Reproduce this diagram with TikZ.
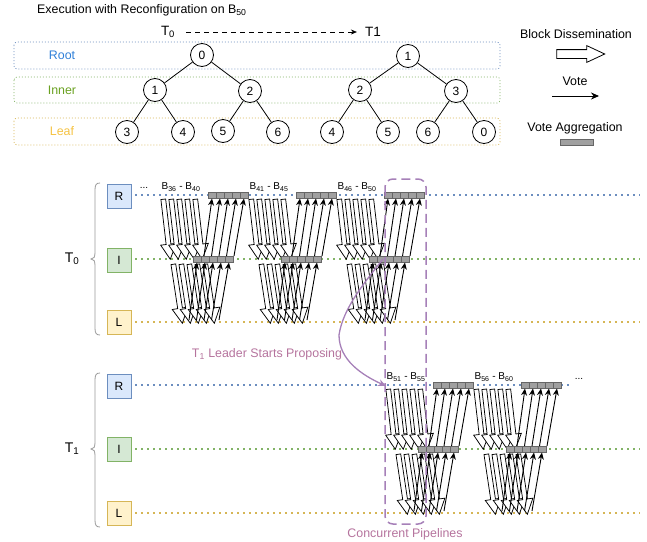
\documentclass[tikz,border=0pt]{standalone}
\usepackage{fontspec}
\setmainfont{Liberation Sans}
\usetikzlibrary{shapes.arrows,arrows.meta,calc}
\definecolor{rblue}{HTML}{6C8EBF}
\definecolor{rfill}{HTML}{DAE8FC}
\definecolor{igreen}{HTML}{82B366}
\definecolor{ifill}{HTML}{D5E8D4}
\definecolor{lyellow}{HTML}{D6B656}
\definecolor{lfill}{HTML}{FFF2CC}
\definecolor{roottxt}{HTML}{2F7FD8}
\definecolor{innertxt}{HTML}{6AA121}
\definecolor{leaftxt}{HTML}{F5C242}
\definecolor{aggfill}{HTML}{A0A0A0}
\definecolor{aggline}{HTML}{666666}
\definecolor{purp}{HTML}{A680B8}
\definecolor{purptxt}{HTML}{B5739D}
\definecolor{bracegray}{HTML}{999999}
\tikzset{
  txt/.style={font=\fontsize{12.4}{14}\selectfont, inner sep=0pt},
  blab/.style={font=\fontsize{10}{12}\selectfont, inner sep=0pt},
  tnode/.style={circle, draw, line width=0.8pt, minimum size=23pt, inner sep=0pt, font=\fontsize{12}{14}\selectfont},
  tedge/.style={line width=0.8pt},
  rowbox/.style={rounded corners=3pt, line width=0.7pt, dash pattern=on 1pt off 2pt},
  lane/.style={line width=1.5pt, dash pattern=on 1.5pt off 4.5pt},
  lvlbox/.style={draw, line width=0.8pt, minimum size=24pt, inner sep=0pt, font=\fontsize{12}{14}\selectfont},
  blockar/.style={single arrow, draw, fill=white, line width=0.75pt, inner xsep=0pt, inner ysep=2pt,
     minimum width=15pt, single arrow head extend=5.5pt, single arrow tip angle=55, anchor=center},
  vote/.style={line width=0.9pt, -{Stealth[length=7pt,width=6pt]}},
  agg/.style={draw=aggline, fill=aggfill, line width=0.9pt},
}
\newcommand\blkarr[5]{%
  \path let \p1=($(#3,#4)-(#1,#2)$), \n1={atan2(\y1,\x1)}, \n2={veclen(\x1,\y1)} in
    node[blockar, minimum height=\n2, rotate=\n1] (#5) at ($(#1,#2)!0.5!(#3,#4)$) {};}
% x0, yR, yI, yL, id, label
\newcommand\grp[6]{%
  \node[blab] (lab#5) at (#1+18, #2-8) {#6};
  \foreach \k in {0,...,4}{
    \pgfmathsetmacro\ax{#1+8*\k}
    \pgfmathsetmacro\bx{#1+7+8*\k}
    \blkarr{\ax}{#2+2}{\bx}{#3-2}{ri#5\k}
  }
  \foreach \k in {0,...,4}{
    \pgfmathsetmacro\ax{#1+10+8*\k}
    \pgfmathsetmacro\bx{#1+19+8*\k}
    \blkarr{\ax}{#3+3}{\bx}{#4-1}{il#5\k}
  }
  \foreach \c in {0,...,4}{
    \draw[agg] ({#1+45+8*\c},{#2-3}) rectangle ++(8,6);
    \draw[agg] ({#1+30+8*\c},{#3-3}) rectangle ++(8,6);
  }
  \foreach \k in {0,...,4}{
    \draw[vote] ({#1+26+7.5*\k},{#4-2}) -- ({#1+34+8*\k},{#3+3.5});
    \draw[vote] ({#1+41+7.5*\k},{#3-3}) -- ({#1+49+8*\k},{#2+3.5});
  }
}
\begin{document}
\begin{tikzpicture}[x=1pt,y=-1pt]
\useasboundingbox (0,0) rectangle (647,541);

% ---------- top part ----------
\node[txt, anchor=west] (title) at (37,10) {Execution with Reconfiguration on B\textsubscript{50}};
\node[font=\fontsize{13.5}{15}\selectfont, inner sep=0pt] (t0top) at (168,32) {T\textsubscript{0}};
\node[font=\fontsize{13.5}{15}\selectfont, inner sep=0pt] (t1top) at (373,32) {T1};
\draw[line width=0.8pt, dash pattern=on 5pt off 4pt, -{Stealth[length=6pt,width=5pt]}, shorten <=11pt, shorten >=8pt] (t0top) -- (t1top);

\draw[rowbox, draw=rblue] (14,42) rectangle (500,69);
\draw[rowbox, draw=igreen] (14,77) rectangle (500,103);
\draw[rowbox, draw=lyellow] (14,118) rectangle (500,145);
\node[txt, text=roottxt] (rootlab) at (62,55) {Root};
\node[txt, text=innertxt] (innerlab) at (62,90) {Inner};
\node[txt, text=leaftxt] (leaflab) at (62,131) {Leaf};

% T0 tree
\node[tnode] (a0) at (202,55) {0};
\node[tnode] (a1) at (155,90) {1};
\node[tnode] (a2) at (250,91) {2};
\node[tnode] (a3) at (127,132) {3};
\node[tnode] (a4) at (183,132) {4};
\node[tnode] (a5) at (223,131) {5};
\node[tnode] (a6) at (278,132) {6};
\draw[tedge] (a0) -- (a1); \draw[tedge] (a0) -- (a2);
\draw[tedge] (a1) -- (a3); \draw[tedge] (a1) -- (a4);
\draw[tedge] (a2) -- (a5); \draw[tedge] (a2) -- (a6);
% T1 tree
\node[tnode] (b1) at (408,56) {1};
\node[tnode] (b2) at (360,90) {2};
\node[tnode] (b3) at (456,91) {3};
\node[tnode] (b4) at (332,132) {4};
\node[tnode] (b5) at (388,132) {5};
\node[tnode] (b6) at (428,132) {6};
\node[tnode] (b0) at (484,132) {0};
\draw[tedge] (b1) -- (b2); \draw[tedge] (b1) -- (b3);
\draw[tedge] (b2) -- (b4); \draw[tedge] (b2) -- (b5);
\draw[tedge] (b3) -- (b6); \draw[tedge] (b3) -- (b0);

% legend
\node[txt] (lgblock) at (576,34) {Block Dissemination};
\node[single arrow, draw, fill=white, line width=0.8pt, inner xsep=0pt, inner ysep=4pt, minimum height=48pt, minimum width=16pt,
      single arrow head extend=4pt, single arrow tip angle=50] (lgarrow) at (576,54) {};
\node[txt] (lgvote) at (575,81) {Vote};
\coordinate (lgv1) at (552,96);
\coordinate (lgv2) at (599,96);
\draw[vote, -{Stealth[length=8pt,width=7pt]}] (lgv1) -- (lgv2);
\node[txt] (lgagg) at (575,128) {Vote Aggregation};
\draw[agg] (560,139) rectangle (593,145);

% ---------- bottom part ----------
% lanes
\draw[lane, draw=rblue] (135,195) -- (640,195);
\draw[lane, draw=igreen] (135,259) -- (640,259);
\draw[lane, draw=lyellow] (135,322) -- (640,322);
\draw[lane, draw=rblue] (135,385) -- (570,385);
\draw[lane, draw=igreen] (135,449) -- (640,449);
\draw[lane, draw=lyellow] (135,513) -- (640,513);
\node[blab] (dots0) at (144,188) {...};
\node[blab] (dots1) at (579,379) {...};

% level boxes
\node[lvlbox, draw=rblue, fill=rfill] (r0) at (119,196) {R};
\node[lvlbox, draw=igreen, fill=ifill] (i0) at (119,260) {I};
\node[lvlbox, draw=lyellow, fill=lfill] (l0) at (119,322) {L};
\node[lvlbox, draw=rblue, fill=rfill] (r1) at (119,386) {R};
\node[lvlbox, draw=igreen, fill=ifill] (i1) at (119,449) {I};
\node[lvlbox, draw=lyellow, fill=lfill] (l1) at (119,513) {L};

% braces
\draw[bracegray, line width=0.8pt] (100,183) .. controls (96,183) and (95,185) .. (95,190) -- (95,252)
  .. controls (95,257) and (94,259) .. (91,259) .. controls (94,259) and (95,261) .. (95,266) -- (95,328)
  .. controls (95,333) and (96,335) .. (100,335);
\draw[bracegray, line width=0.8pt] (100,373) .. controls (96,373) and (95,375) .. (95,380) -- (95,442)
  .. controls (95,447) and (94,449) .. (91,449) .. controls (94,449) and (95,451) .. (95,456) -- (95,520)
  .. controls (95,525) and (96,527) .. (100,527);
\node[font=\fontsize{14}{16}\selectfont, inner sep=0pt] (bt0) at (72,259) {T\textsubscript{0}};
\node[font=\fontsize{14}{16}\selectfont, inner sep=0pt] (bt1) at (72,449) {T\textsubscript{1}};

% groups
\grp{163}{195}{259}{322}{a}{B\textsubscript{36} - B\textsubscript{40}}
\grp{251}{195}{259}{322}{b}{B\textsubscript{41} - B\textsubscript{45}}
\grp{339}{195}{259}{322}{c}{B\textsubscript{46} - B\textsubscript{50}}
\grp{388}{385}{449}{513}{d}{B\textsubscript{51} - B\textsubscript{55}}
\grp{476}{385}{449}{513}{e}{B\textsubscript{56} - B\textsubscript{60}}

% purple overlays
\draw[purp, line width=1.5pt, dash pattern=on 9pt off 5pt, rounded corners=8pt] (385,179) rectangle (426,524);
\coordinate (cs) at (383,259);
\coordinate (ce) at (386,386);
\draw[purp, line width=1.3pt, -{Stealth[length=8pt,width=7pt]}] (cs) .. controls (365,282) and (343,308) .. (339,335)
   .. controls (339,360) and (362,375) .. (ce);
\node[txt, text=purptxt] (leader) at (267,354) {T\textsubscript{1} Leader Starts Proposing};
\node[txt, text=purptxt] (concur) at (405,534) {Concurrent Pipelines};
\end{tikzpicture}
\end{document}
